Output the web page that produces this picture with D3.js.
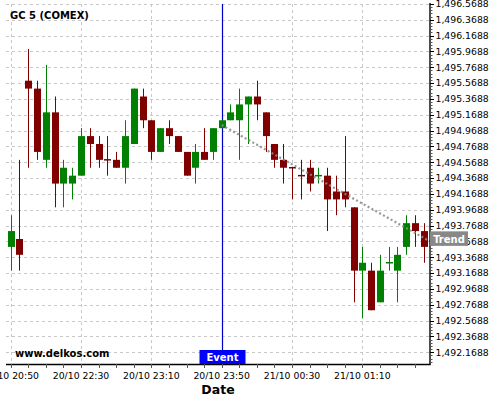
<!DOCTYPE html>
<html>
<head>
<meta charset="utf-8">
<script src="https://cdn.jsdelivr.net/npm/d3@7"></script>
<style>
  html, body { margin: 0; padding: 0; background: #fff; }
  svg { display: block; font-family: "DejaVu Sans", sans-serif; }
</style>
</head>
<body>
<svg id="chart" width="500" height="400"></svg>
<script>
// ---------- data ----------
const categories = [
  "20/10 20:50","20/10 20:55","20/10 22:00","20/10 22:05","20/10 22:10","20/10 22:15","20/10 22:20","20/10 22:25",
  "20/10 22:30","20/10 22:35","20/10 22:40","20/10 22:45","20/10 22:50","20/10 22:55","20/10 23:00","20/10 23:05",
  "20/10 23:10","20/10 23:15","20/10 23:20","20/10 23:25","20/10 23:30","20/10 23:35","20/10 23:40","20/10 23:45",
  "20/10 23:50","20/10 23:55","21/10 00:00","21/10 00:05","21/10 00:10","21/10 00:15","21/10 00:20","21/10 00:25",
  "21/10 00:30","21/10 00:35","21/10 00:40","21/10 00:45","21/10 00:50","21/10 00:55","21/10 01:00","21/10 01:05",
  "21/10 01:10","21/10 01:15","21/10 01:20","21/10 01:25","21/10 01:30","21/10 01:35","21/10 01:40","21/10 01:45"
];
const openV  = [1493.5,1493.6,1495.6,1495.5,1494.6,1495.2,1494.3,1494.3,1494.4,1494.9,1494.8,1494.6,1494.6,1494.5,1494.8,1495.4,
                1495.1,1494.7,1495.0,1494.9,1494.7,1494.5,1494.7,1494.7,1495.0,1495.1,1495.1,1495.3,1495.4,1495.2,1494.8,1494.6,
                1494.5,1494.4,1494.5,1494.4,1494.4,1494.2,1494.2,1494.0,1493.2,1493.2,1492.8,1493.3,1493.2,1493.5,1493.8,1493.7];
const highV  = [1493.9,1494.6,1496.0,1495.6,1495.8,1495.4,1494.6,1494.5,1495.0,1495.0,1494.9,1494.9,1494.7,1495.1,1495.5,1495.5,
                1495.1,1495.0,1495.1,1494.9,1494.7,1494.8,1495.0,1495.0,1495.1,1495.3,1495.5,1495.4,1495.6,1495.2,1494.8,1494.8,
                1494.5,1494.6,1494.6,1494.5,1494.5,1494.4,1494.9,1494.0,1493.5,1493.3,1493.4,1493.5,1493.5,1493.9,1493.9,1493.8];
const lowV   = [1493.2,1493.2,1494.5,1494.6,1494.5,1494.0,1494.0,1494.1,1494.4,1494.5,1494.5,1494.4,1494.5,1494.3,1494.8,1495.0,
                1494.6,1494.7,1494.8,1494.7,1494.4,1494.3,1494.6,1494.6,1495.0,1495.1,1494.6,1494.8,1495.1,1494.7,1494.5,1494.3,
                1494.1,1494.1,1494.2,1494.3,1493.7,1493.9,1494.0,1492.8,1492.6,1492.7,1492.8,1493.2,1492.8,1493.4,1493.5,1493.3];
const closeV = [1493.7,1493.4,1495.5,1494.7,1495.2,1494.3,1494.5,1494.4,1494.9,1494.8,1494.6,1494.6,1494.5,1494.9,1495.5,1495.1,
                1494.7,1495.0,1494.9,1494.7,1494.4,1494.7,1494.6,1495.0,1495.1,1495.2,1495.3,1495.4,1495.3,1494.9,1494.6,1494.5,
                1494.5,1494.4,1494.3,1494.4,1494.1,1494.1,1494.1,1493.2,1493.3,1492.7,1493.2,1493.3,1493.4,1493.8,1493.7,1493.5];

const yTickValues = [1492.1688,1492.3688,1492.5688,1492.7688,1492.9688,1493.1688,1493.3688,1493.5688,1493.7688,1493.9688,
                     1494.1688,1494.3688,1494.5688,1494.7688,1494.9688,1495.1688,1495.3688,1495.5688,1495.7688,1495.9688,
                     1496.1688,1496.3688,1496.5688];
const xTickIndex = [0, 8, 16, 24, 32, 40];
const xTickLabels = ["20/10 20:50","20/10 22:30","20/10 23:10","20/10 23:50","21/10 00:30","21/10 01:10"];

const eventIndex = 24;
const eventLabel = "Event";
const trendIdx = [24, 47.7];
const trendVal = [1495.04, 1493.57];
const trendLabel = "Trend";
const titleText = "GC 5 (COMEX)";
const brandText = "www.delkos.com";
const xAxisTitle = "Date";

// ---------- layout ----------
const L = 6, R = 430, T = 4, B = 364;
const svg = d3.select("#chart");

const x = d3.scaleLinear().domain([-0.535, 47.7]).range([L, R]);
const y = d3.scaleLinear().domain([1492.0206, 1496.5688]).range([B, T]);
const step = x(1) - x(0);
const bw = step * 0.8;

const green = "#008000", red = "#800000";

// grid
const grid = svg.append("g");
grid.selectAll("line.h").data(yTickValues).join("line")
  .attr("x1", L).attr("x2", R)
  .attr("y1", d => Math.round(y(d)) + 0.5).attr("y2", d => Math.round(y(d)) + 0.5)
  .attr("stroke", "#c8c8c8").attr("stroke-width", 1).attr("stroke-dasharray", "3,3");
grid.selectAll("line.v").data(xTickIndex).join("line")
  .attr("x1", d => Math.round(x(d)) + 0.5).attr("x2", d => Math.round(x(d)) + 0.5)
  .attr("y1", T).attr("y2", B)
  .attr("stroke", "#c8c8c8").attr("stroke-width", 1).attr("stroke-dasharray", "3,3");

// event line (behind candles)
const ex = Math.round(x(eventIndex)) + 0.5;
svg.append("line").attr("x1", ex).attr("x2", ex).attr("y1", T).attr("y2", B)
  .attr("stroke", "#0000cc").attr("stroke-width", 1.2);

// candles
const data = categories.map((c, i) => ({
  i, c, o: openV[i], h: highV[i], l: lowV[i], cl: closeV[i]
}));
function colorOf(d) {
  if (d.cl > d.o) return green;
  if (d.cl < d.o) return red;
  const prev = d.i > 0 ? closeV[d.i - 1] : d.cl;
  return d.cl > prev ? green : red;
}
const cg = svg.append("g");
cg.selectAll("line.wick").data(data).join("line")
  .attr("x1", d => Math.round(x(d.i)) + 0.5).attr("x2", d => Math.round(x(d.i)) + 0.5)
  .attr("y1", d => y(d.h)).attr("y2", d => y(d.l))
  .attr("stroke", colorOf).attr("stroke-width", 1);
cg.selectAll("rect.body").data(data).join("rect")
  .attr("x", d => Math.round(x(d.i)) + 0.5 - bw / 2)
  .attr("width", bw)
  .attr("y", d => d.o === d.cl ? y(d.o) - 0.75 : y(Math.max(d.o, d.cl)))
  .attr("height", d => d.o === d.cl ? 1.5 : Math.abs(y(d.o) - y(d.cl)))
  .attr("fill", colorOf);

// trend line
const trendPts = trendIdx.map((t, k) => [x(t), y(trendVal[k])]);
svg.append("path")
  .attr("d", d3.line()(trendPts))
  .attr("fill", "none").attr("stroke", "#8c8c8c").attr("stroke-width", 2.2)
  .attr("stroke-dasharray", "2,2.4").attr("opacity", 0.9);

// axes
const ya = svg.append("g");
ya.append("line").attr("x1", R).attr("x2", R).attr("y1", T - 1).attr("y2", B + 0.5)
  .attr("stroke", "#000").attr("stroke-width", 1.4);
const minorY = d3.range(0, 23 * 5 + 3).map(k => 1492.0488 + k * 0.04).filter(v => y(v) >= T - 0.5 && y(v) <= B);
ya.selectAll("line.mn").data(minorY).join("line")
  .attr("x1", R).attr("x2", R + 2.5)
  .attr("y1", d => Math.round(y(d)) + 0.5).attr("y2", d => Math.round(y(d)) + 0.5)
  .attr("stroke", "#555").attr("stroke-width", 1);
ya.selectAll("line.mj").data(yTickValues).join("line")
  .attr("x1", R).attr("x2", R + 4)
  .attr("y1", d => Math.round(y(d)) + 0.5).attr("y2", d => Math.round(y(d)) + 0.5)
  .attr("stroke", "#000").attr("stroke-width", 1);
const fmt = d3.format(",.4f");
ya.selectAll("text").data(yTickValues).join("text")
  .attr("x", R + 5.5).attr("y", d => y(d)).attr("dy", "0.35em")
  .attr("font-size", "9.3px").attr("fill", "#000")
  .text(d => fmt(d));

const xa = svg.append("g");
xa.append("line").attr("x1", L).attr("x2", R + 0.7).attr("y1", B + 0.5).attr("y2", B + 0.5)
  .attr("stroke", "#000").attr("stroke-width", 1.4);
const minorX = d3.range(0, 48, 2);
xa.selectAll("line.mn").data(minorX).join("line")
  .attr("x1", d => Math.round(x(d)) + 0.5).attr("x2", d => Math.round(x(d)) + 0.5)
  .attr("y1", B).attr("y2", B + 4)
  .attr("stroke", "#555").attr("stroke-width", 1);
xa.selectAll("text").data(xTickIndex).join("text")
  .attr("x", d => x(d)).attr("y", B + 15)
  .attr("text-anchor", "middle").attr("font-size", "9.3px").attr("fill", "#000")
  .text((d, k) => xTickLabels[k]);

svg.append("text").attr("x", (L + R) / 2).attr("y", 394)
  .attr("text-anchor", "middle").attr("font-size", "12.5px").attr("font-weight", "bold")
  .text(xAxisTitle);

// title & brand
svg.append("text").attr("x", 10).attr("y", 19)
  .attr("font-size", "10px").attr("font-weight", "bold").text(titleText);
svg.append("text").attr("x", 15).attr("y", 357)
  .attr("font-size", "10px").attr("font-weight", "bold").text(brandText);

// event label
const evg = svg.append("g");
evg.append("rect").attr("x", ex - 23).attr("y", 350).attr("width", 46).attr("height", 14).attr("fill", "#0000ff");
evg.append("text").attr("x", ex).attr("y", 361).attr("text-anchor", "middle")
  .attr("font-size", "10px").attr("font-weight", "bold").attr("fill", "#fff").text(eventLabel);

// trend label
const tEnd = trendPts[1];
const tg = svg.append("g");
tg.append("rect").attr("x", R).attr("y", tEnd[1] - 10).attr("width", 38).attr("height", 14.5).attr("fill", "#888888");
tg.append("text").attr("x", R + 19).attr("y", tEnd[1] + 1.2).attr("text-anchor", "middle")
  .attr("font-size", "10px").attr("font-weight", "bold").attr("fill", "#fff").text(trendLabel);
</script>
</body>
</html>
